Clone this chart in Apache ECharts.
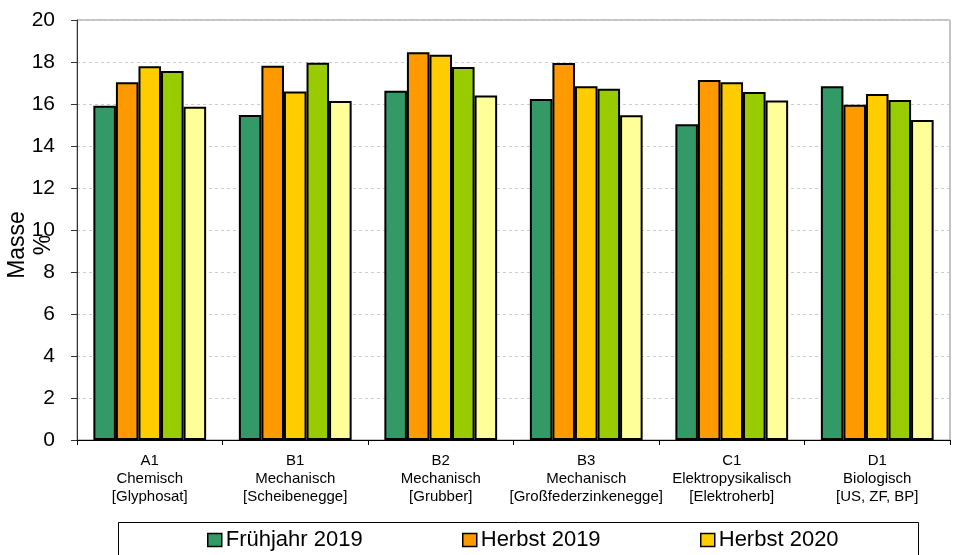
<!DOCTYPE html>
<html><head><meta charset="utf-8">
<script src="https://cdn.jsdelivr.net/npm/echarts@6/dist/echarts.min.js"></script>
<style>html,body{margin:0;padding:0;background:#fff}#c{width:954px;height:555px}</style>
</head><body><div id="c"></div>
<script>
const categories = [
  "A1\nChemisch\n[Glyphosat]",
  "B1\nMechanisch\n[Scheibenegge]",
  "B2\nMechanisch\n[Grubber]",
  "B3\nMechanisch\n[Großfederzinkenegge]",
  "C1\nElektropysikalisch\n[Elektroherb]",
  "D1\nBiologisch\n[US, ZF, BP]"
];
const seriesNames = ["Frühjahr 2019", "Herbst 2019", "Herbst 2020", "Reihe 4", "Reihe 5"];
const legendNames = ["Frühjahr 2019", "Herbst 2019", "Herbst 2020"];
const s1 = [15.92, 15.48, 16.63, 16.24, 15.03, 16.84];
const s2 = [17.03, 17.82, 18.46, 17.95, 17.14, 15.97];
const s3 = [17.80, 16.60, 18.35, 16.84, 17.03, 16.48];
const s4 = [17.57, 17.97, 17.76, 16.73, 16.57, 16.19];
const s5 = [15.87, 16.14, 16.41, 15.46, 16.17, 15.24];
const colors = ["#339966", "#FF9900", "#FFCC00", "#99CC00", "#FFFF99"];
const values = [s1, s2, s3, s4, s5];

const font = "Liberation Sans, Arial, sans-serif";
const chart = echarts.init(document.getElementById('c'));
const legendLefts = [207, 462, 700];
chart.setOption({
  animation: false,
  grid: {left: 77, right: 4, top: 20, bottom: 115, containLabel: false, outerBoundsMode: 'none',
         show: true, borderColor: '#888', borderWidth: 1},
  graphic: [{type: 'rect', shape: {x: 118.5, y: 522.5, width: 800, height: 60}, style: {fill: 'none', stroke: '#000', lineWidth: 1}}],
  legend: legendNames.map((n, i) => ({
    data: [n], left: legendLefts[i], top: 529, itemWidth: 14, itemHeight: 13, itemGap: 4, padding: 0,
    icon: 'rect',
    itemStyle: {borderColor: '#000', borderWidth: 1.5},
    textStyle: {fontFamily: font, fontSize: 22, color: '#000', padding: [0, 0, 0, -1]}
  })),
  xAxis: {
    type: 'category', data: categories,
    axisLine: {lineStyle: {color: '#000', width: 1}},
    axisTick: {show: true, length: 5, lineStyle: {color: '#000'}},
    axisLabel: {fontFamily: font, fontSize: 15, color: '#000', lineHeight: 18, margin: 12, interval: 0}
  },
  yAxis: {
    type: 'value', min: 0, max: 20, interval: 2,
    name: 'Masse\n%', nameLocation: 'middle', nameRotate: 90, nameGap: 20, nameMoveOverlap: false,
    nameTextStyle: {fontFamily: font, fontSize: 23, color: '#000', lineHeight: 26, padding: [0, 30, 0, 0]},
    axisLine: {show: true, lineStyle: {color: '#333', width: 1}},
    axisTick: {show: true, length: 6, lineStyle: {color: '#333'}},
    axisLabel: {fontFamily: font, fontSize: 21, color: '#000', margin: 22},
    splitLine: {lineStyle: {color: '#ccc', type: [3, 3], width: 1}}
  },
  series: values.map((v, i) => ({
    name: seriesNames[i], type: 'bar', data: v,
    barGap: '0%', barCategoryGap: '22.5%',
    itemStyle: {color: colors[i], borderColor: '#000', borderWidth: 2}
  }))
});
</script></body></html>
